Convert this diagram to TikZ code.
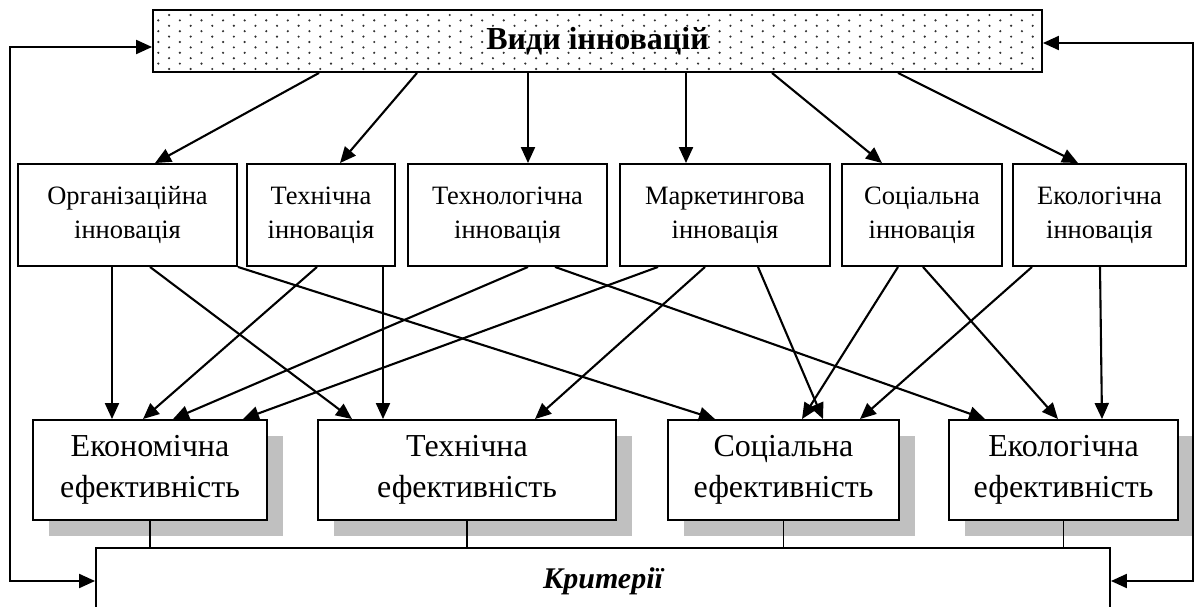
\documentclass[tikz,border=0pt]{standalone}
\usepackage{fontspec}
\setmainfont{Liberation Serif}
\usetikzlibrary{arrows.meta,calc}
\definecolor{shadowgray}{HTML}{C0C0C0}
\definecolor{dotgray}{HTML}{303030}
\begin{document}
\begin{tikzpicture}[x=1pt,y=-1pt,
  box/.style={draw, line width=1.9pt, fill=white, inner sep=0pt, align=center},
  innov/.style={box, minimum height=102pt, font=\fontsize{26.5}{34}\selectfont},
  effbox/.style={box, minimum height=100pt, font=\fontsize{32}{41}\selectfont,
    preaction={fill=shadowgray, draw=none, transform canvas={shift={(16pt,-16pt)}}}},
  tip/.tip={Triangle[length=16pt,width=14pt]},
  arr/.style={line width=2.1pt, -tip},
  biarr/.style={line width=2.1pt, tip-tip},
  thinline/.style={line width=1.3pt}]
\useasboundingbox (0,0) rectangle (1197,607);
\clip (0,0) rectangle (1197,607);
\fill[white] (0,0) rectangle (1197,607);

% top box with dot pattern
\node[box, minimum width=889pt, minimum height=62pt] (types) at (597.5,41) {};
\foreach \k in {0,...,81}{
  \pgfmathsetmacro\xx{158.3+10.795*\k}
  \pgfmathsetmacro\yoff{mod(\k,2)==1 ? 15 : 20.4}
  \foreach \j in {0,...,5}{
    \pgfmathsetmacro\yy{\yoff+10.8*\j}
    \ifdim\yy pt<71pt \fill[dotgray] (\xx,\yy) circle (1.2pt);\fi
  }
}
\node[font=\fontsize{32}{38}\selectfont\bfseries, inner sep=0pt] (typestext) at (types.center) {Види інновацій};

% innovation boxes
\node[innov, minimum width=219pt] (org)   at (127.5,215) {Організаційна\\інновація};
\node[innov, minimum width=148pt] (tech)  at (321,215)   {Технічна\\інновація};
\node[innov, minimum width=199pt] (techn) at (507.5,215) {Технологічна\\інновація};
\node[innov, minimum width=210pt] (mark)  at (725,215)   {Маркетингова\\інновація};
\node[innov, minimum width=160pt] (soc)   at (922,215)   {Соціальна\\інновація};
\node[innov, minimum width=173pt] (ecol)  at (1099.5,215){Екологічна\\інновація};

% efficiency boxes
\node[effbox, minimum width=234pt] (econ) at (150,470)    {Економічна\\ефективність};
\node[effbox, minimum width=298pt] (teff) at (467,470)    {Технічна\\ефективність};
\node[effbox, minimum width=231pt] (seff) at (783.5,470)  {Соціальна\\ефективність};
\node[effbox, minimum width=229pt] (eeff) at (1063.5,470) {Екологічна\\ефективність};

% criteria box
\node[box, minimum width=1014pt, minimum height=66pt,
      font=\fontsize{30}{36}\selectfont\bfseries\itshape] (crit) at (603,581) {Критерії};

% top arrows
\draw[arr] ([xshift=-278.5pt]types.south) -- ([xshift=27.5pt]org.north);
\draw[arr] ([xshift=-180.5pt]types.south) -- ([xshift=19pt]tech.north);
\draw[arr] ([xshift=-69.5pt]types.south)  -- ([xshift=20.5pt]techn.north);
\draw[arr] ([xshift=88.5pt]types.south)   -- ([xshift=-39pt]mark.north);
\draw[arr] ([xshift=174.5pt]types.south)  -- ([xshift=-40pt]soc.north);
\draw[arr] ([xshift=300.5pt]types.south)  -- ([xshift=-21.5pt]ecol.north);

% middle arrows
\draw[arr] ([xshift=-15.5pt]org.south) -- ([xshift=-38pt]econ.north);
\draw[arr] ([xshift=22.5pt]org.south)  -- ([xshift=-115pt]teff.north);
\draw[arr] (org.south east)            -- ([xshift=-68.5pt]seff.north);
\draw[arr] ([xshift=-4pt]tech.south)   -- ([xshift=-7pt]econ.north);
\draw[arr] ([xshift=62pt]tech.south)   -- ([xshift=-84pt]teff.north);
\draw[arr] ([xshift=20.5pt]techn.south) -- ([xshift=23pt]econ.north);
\draw[arr] ([xshift=47.5pt]techn.south) -- ([xshift=-78.5pt]eeff.north);
\draw[arr] ([xshift=-67pt]mark.south)  -- ([xshift=93pt]econ.north);
\draw[arr] ([xshift=-20pt]mark.south)  -- ([xshift=68pt]teff.north);
\draw[arr] ([xshift=33pt]mark.south)   -- ([xshift=39.5pt]seff.north);
\draw[arr] ([xshift=-24pt]soc.south)   -- ([xshift=18.5pt]seff.north);
\draw[arr] ([xshift=1pt]soc.south)     -- ([xshift=-5.5pt]eeff.north);
\draw[arr] ([xshift=-67.5pt]ecol.south) -- ([xshift=76.5pt]seff.north);
\draw[arr] ([xshift=0.5pt]ecol.south)  -- ([xshift=38.5pt]eeff.north);

% efficiency to criteria
\foreach \n in {econ,teff,seff,eeff}{
  \draw[thinline] (\n.south) -- (\n.south |- crit.north);
}

% feedback arrows
\coordinate (lt) at (10,47);
\coordinate (lb) at (10,581);
\coordinate (rt) at (1193,43);
\coordinate (rb) at (1193,581);
\draw[biarr] (types.west |- lt) -- (lt) -- (lb) -- (crit.west);
\draw[biarr] (types.east |- rt) -- (rt) -- (rb) -- (crit.east);
\end{tikzpicture}
\end{document}
